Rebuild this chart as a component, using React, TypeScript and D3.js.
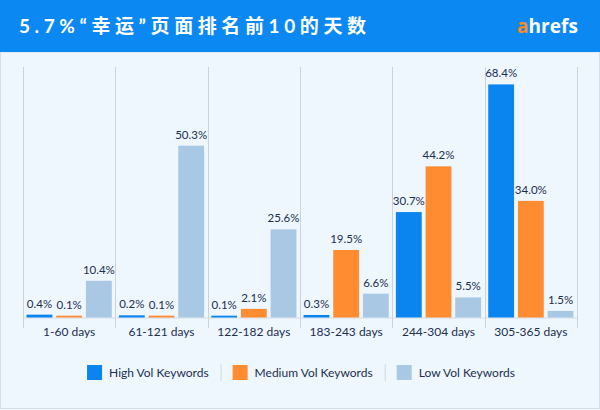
import { useEffect, useRef } from 'react'
import * as d3 from 'd3'

const categories = ['1-60 days', '61-121 days', '122-182 days', '183-243 days', '244-304 days', '305-365 days']
const seriesNames = ['High Vol Keywords', 'Medium Vol Keywords', 'Low Vol Keywords']
const highVol = [0.4, 0.2, 0.1, 0.3, 30.7, 68.4]
const mediumVol = [0.1, 0.1, 2.1, 19.5, 44.2, 34.0]
const lowVol = [10.4, 50.3, 25.6, 6.6, 5.5, 1.5]
const seriesColors = ['#0a85f0', '#ff8c30', '#a9c8e4']

const title = '5.7%“幸运”页面排名前10的天数'

export default function App() {
  const svgRef = useRef<SVGSVGElement>(null)

  useEffect(() => {
    if (!svgRef.current) return
    const width = 600
    const height = 410
    const headerH = 52
    const baseline = 317.5
    const left = 23
    const right = 577
    const textColor = '#1b304d'
    const font = "Lato, 'Noto Sans CJK SC', sans-serif"

    const svg = d3.select(svgRef.current)
    svg.selectAll('*').remove()
    svg.attr('width', width).attr('height', height)

    // background + frame
    svg.append('rect').attr('width', width).attr('height', height).attr('fill', '#eef6fe')
    svg.append('rect')
      .attr('x', 0.5).attr('y', headerH).attr('width', width - 1).attr('height', height - headerH - 1.5)
      .attr('fill', 'none').attr('stroke', '#d4dde8')
    svg.append('rect').attr('width', width).attr('height', headerH).attr('fill', '#0b88f2')

    svg.append('text')
      .attr('x', 19).attr('y', 33)
      .attr('textLength', 347).attr('lengthAdjust', 'spacing')
      .attr('fill', '#fff').attr('font-size', 19).attr('font-weight', 700)
      .attr('font-family', font)
      .text(title)

    const logo = svg.append('text')
      .attr('x', 517).attr('y', 33)
      .attr('textLength', 61).attr('lengthAdjust', 'spacing')
      .attr('font-size', 19).attr('font-weight', 700)
      .attr('font-family', "'Open Sans', sans-serif")
    logo.append('tspan').attr('fill', '#ff8a1e').text('a')
    logo.append('tspan').attr('fill', '#fff').text('hrefs')

    const x0 = d3.scaleBand<string>().domain(categories).range([left, right]).padding(0)
    const x1 = d3.scaleBand<string>().domain(seriesNames).range([0, x0.bandwidth()])
      .paddingInner(0.13).paddingOuter(0.12)
    const y = d3.scaleLinear().domain([0, 70]).range([baseline - 1.5, baseline - 1.5 - 237])

    const g = svg.append('g')

    // dividers
    const divX = categories.map(c => x0(c)!).concat([right])
    g.selectAll('.div')
      .data(divX)
      .join('line')
      .attr('x1', d => Math.round(d) + 0.5).attr('x2', d => Math.round(d) + 0.5)
      .attr('y1', 67).attr('y2', 328)
      .attr('stroke', '#c9d3de').attr('stroke-width', 1)

    g.append('line')
      .attr('x1', left).attr('x2', right)
      .attr('y1', baseline + 0.5).attr('y2', baseline + 0.5)
      .attr('stroke', '#d3dbe5')

    const allSeries = [highVol, mediumVol, lowVol]
    const rows = categories.flatMap((c, i) =>
      allSeries.map((vals, s) => ({ cat: c, series: seriesNames[s], value: vals[i], color: seriesColors[s] })))

    g.selectAll('.bar')
      .data(rows)
      .join('rect')
      .attr('x', d => x0(d.cat)! + x1(d.series)!)
      .attr('width', x1.bandwidth())
      .attr('y', d => y(d.value))
      .attr('height', d => baseline - y(d.value))
      .attr('fill', d => d.color)

    g.selectAll('.lbl')
      .data(rows)
      .join('text')
      .attr('x', d => x0(d.cat)! + x1(d.series)! + x1.bandwidth() / 2)
      .attr('y', d => y(d.value) - 7)
      .attr('text-anchor', 'middle')
      .attr('font-size', 11.5)
      .attr('font-family', font)
      .attr('fill', textColor)
      .text(d => d.value.toFixed(1) + '%')

    g.selectAll('.cat')
      .data(categories)
      .join('text')
      .attr('x', d => x0(d)! + x0.bandwidth() / 2)
      .attr('y', 336)
      .attr('text-anchor', 'middle')
      .attr('font-size', 12)
      .attr('font-family', font)
      .attr('fill', textColor)
      .text(d => d)

    // legend
    const legend = svg.append('g')
    let cx = 0
    seriesNames.forEach((name, i) => {
      if (i > 0) {
        cx += 12
        legend.append('line')
          .attr('x1', cx + 0.5).attr('x2', cx + 0.5).attr('y1', 364).attr('y2', 381)
          .attr('stroke', '#d0d8e2')
        cx += 12
      }
      legend.append('rect')
        .attr('x', cx).attr('y', 365).attr('width', 15).attr('height', 15)
        .attr('fill', seriesColors[i])
      const t = legend.append('text')
        .attr('x', cx + 22).attr('y', 377)
        .attr('font-size', 12).attr('font-family', font)
        .attr('fill', textColor)
        .text(name)
      const w = (t.node() as SVGTextElement).getComputedTextLength()
      cx += 22 + w
    })
    legend.attr('transform', `translate(${301 - cx / 2},0)`)
  }, [])

  return (
    <div style={{ position: 'absolute', left: 0, top: 0 }}>
      <svg ref={svgRef} style={{ display: 'block' }} />
    </div>
  )
}
